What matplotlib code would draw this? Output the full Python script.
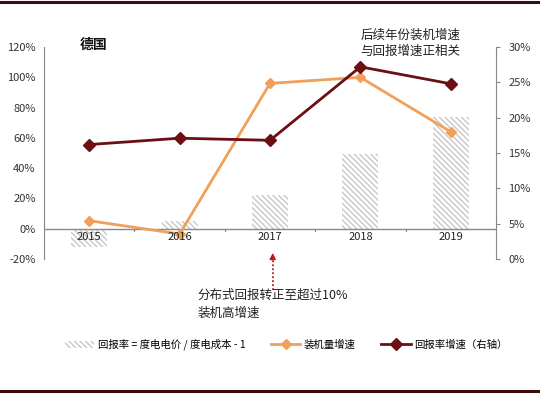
import matplotlib
matplotlib.use("Agg")
import matplotlib.pyplot as plt
from matplotlib.lines import Line2D
from matplotlib.patches import Patch, FancyArrowPatch
import numpy as np

plt.rcParams['font.family'] = ['Noto Sans CJK SC', 'DejaVu Sans']
plt.rcParams['hatch.color'] = '#b8b8b8'
plt.rcParams['hatch.linewidth'] = 1.0

years = ['2015', '2016', '2017', '2018', '2019']
return_rate = [-12, 5, 22, 49.5, 74]          # left axis, %
install_growth = [5.3, -3.5, 96, 100, 64]      # left axis, %
return_growth = [16.2, 17.1, 16.8, 27.2, 24.8]  # right axis, %

HATCH = '\\' * 6

fig = plt.figure(figsize=(5.4, 3.94), dpi=100)
ax = fig.add_axes([0.0815, 0.3426, 0.837, 0.538])
x = np.arange(len(years))

ax.bar(x, return_rate, width=0.4, color='white', edgecolor='#c8c8c8',
       hatch=HATCH, linewidth=0, zorder=1)
ax.plot(x, install_growth, color='#f0a05a', lw=2, marker='D', ms=5, zorder=3)
ax.set_ylim(-20, 120)
ax.set_xlim(-0.5, 4.5)
ax.set_yticks(np.arange(-20, 121, 20))
ax.set_yticklabels([f'{v}%' for v in range(-20, 121, 20)], fontsize=8, color='#333333')
ax.tick_params(axis='y', length=0, pad=6)
ax.set_xticks([])
for s in ['top', 'right', 'bottom']:
    ax.spines[s].set_visible(False)
ax.spines['left'].set_color('#888888')
ax.axhline(0, color='#888888', lw=1, zorder=2)
for b in np.arange(0.5, 4.5, 1):
    ax.plot([b, b], [0, -1.5], color='#888888', lw=0.8, zorder=2)
for i, y in enumerate(years):
    ax.text(i, -2, y, ha='center', va='top', fontsize=8, color='#222222', zorder=4)

ax2 = ax.twinx()
ax2.plot(x, return_growth, color='#6b0f12', lw=2, marker='D', ms=6, zorder=3)
ax2.set_ylim(0, 30)
ax2.set_yticks(np.arange(0, 31, 5))
ax2.set_yticklabels([f'{v}%' for v in range(0, 31, 5)], fontsize=8, color='#333333')
ax2.tick_params(axis='y', length=3, direction='out', color='#888888', pad=6)
for s in ['top', 'left', 'bottom']:
    ax2.spines[s].set_visible(False)
ax2.spines['right'].set_color('#888888')

fig.text(0.148, 0.885, '德国', fontsize=10, fontweight='bold', color='#111111', va='center')
fig.text(0.76, 0.89, '后续年份装机增速\n与回报增速正相关', fontsize=9, ha='center',
         va='center', color='#222222', linespacing=1.35)
fig.text(0.365, 0.228, '分布式回报转正至超过10%\n装机高增速', fontsize=9, ha='left',
         va='center', color='#222222', linespacing=1.45)
fig.add_artist(Line2D([0.505, 0.505], [0.263, 0.345], color='#c0141a', lw=1.3,
                      ls=(0, (1, 1.2)), transform=fig.transFigure))
fig.add_artist(FancyArrowPatch((0.505, 0.34), (0.505, 0.365), transform=fig.transFigure,
                               arrowstyle='-|>', mutation_scale=9, color='#c0141a', lw=1))

handles = [Patch(facecolor='white', edgecolor='#c8c8c8', hatch=HATCH, linewidth=0),
           Line2D([], [], color='#f0a05a', lw=2, marker='D', ms=5),
           Line2D([], [], color='#6b0f12', lw=2, marker='D', ms=6)]
labels = ['回报率 = 度电电价 / 度电成本 - 1', '装机量增速', '回报率增速（右轴）']
fig.legend(handles, labels, loc='center', bbox_to_anchor=(0.53, 0.125), ncol=3,
           frameon=False, fontsize=7.5, handlelength=2.8, columnspacing=2.5,
           handletextpad=0.3)

fig.add_artist(Line2D([0, 1], [0.996, 0.996], color='#3a0c10', lw=2.2, transform=fig.transFigure))
fig.add_artist(Line2D([0, 1], [0.007, 0.007], color='#3a0c10', lw=2.2, transform=fig.transFigure))

fig.savefig('out.png', dpi=100, facecolor='white')
